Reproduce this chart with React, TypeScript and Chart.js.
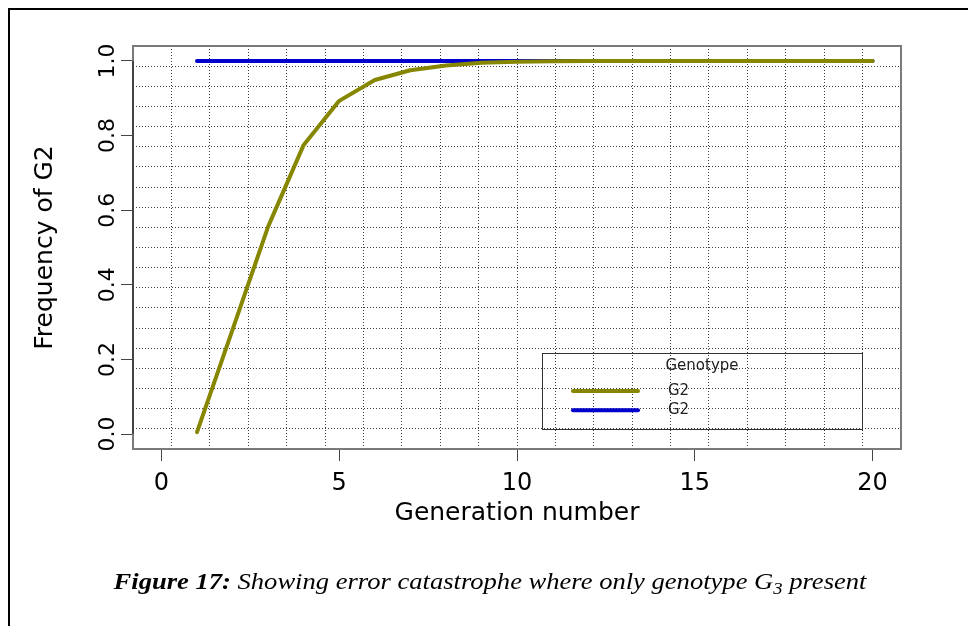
import React, { useEffect, useRef } from "react";
import { Chart, registerables } from "chart.js";

Chart.register(...registerables);

// ---- data ----
const generations = [1, 2, 3, 4, 5, 6, 7, 8, 9, 10, 11, 12, 13, 14, 15, 16, 17, 18, 19, 20];
const oliveG2 = [0.005, 0.28, 0.556, 0.775, 0.893, 0.949, 0.975, 0.988, 0.995, 0.998, 0.999, 1, 1, 1, 1, 1, 1, 1, 1, 1];
const blueG2 = [1, 1, 1, 1, 1, 1, 1, 1, 1, 1, 1, 1, 1, 1, 1, 1, 1, 1, 1, 1];
const seriesLabels = ["G2", "G2"];
const seriesColors = ["#868600", "#0000cd"];
const legendTitle = "Genotype";
const xTicks = [0, 5, 10, 15, 20];
const yTicks = [0, 0.2, 0.4, 0.6, 0.8, 1.0];
const xRange = [-0.8, 20.8];
const yRange = [-0.04, 1.04];
const gridDivisions = 20;
const xTitle = "Generation number";
const yTitle = "Frequency of G2";

const FONT = '"DejaVu Sans", sans-serif';

const evenTicks = (min: number, max: number, n: number) => {
  const out: { value: number }[] = [];
  for (let k = 0; k <= n; k++) out.push({ value: min + ((max - min) * k) / n });
  return out;
};

const boxAndLegend = {
  id: "boxAndLegend",
  afterDatasetsDraw(chart: any) {
    const { ctx, chartArea: a } = chart;
    ctx.save();
    // plot box
    ctx.strokeStyle = "#7a7a7a";
    ctx.lineWidth = 2;
    ctx.strokeRect(a.left, a.top, a.right - a.left, a.bottom - a.top);
    // y axis line segment between first and last tick
    const ys = chart.scales.y;
    ctx.strokeStyle = "#333";
    ctx.lineWidth = 1.5;
    ctx.beginPath();
    ctx.moveTo(a.left, ys.getPixelForValue(yTicks[0]));
    ctx.lineTo(a.left, ys.getPixelForValue(yTicks[yTicks.length - 1]));
    ctx.stroke();

    // legend
    const w = 320;
    const h = 76;
    const right = a.right - 39;
    const bottom = a.bottom - 20;
    const left = right - w;
    const top = bottom - h;
    ctx.strokeStyle = "#333";
    ctx.lineWidth = 1;
    ctx.strokeRect(Math.round(left) + 0.5, Math.round(top) + 0.5, w, h);
    ctx.fillStyle = "#222";
    ctx.font = `15px ${FONT}`;
    ctx.textAlign = "center";
    ctx.textBaseline = "middle";
    ctx.fillText(legendTitle, left + w / 2, top + 13);
    chart.data.datasets.forEach((ds: any, i: number) => {
      const y = top + 38 + i * 19.3;
      ctx.strokeStyle = ds.borderColor;
      ctx.lineWidth = 4;
      ctx.lineCap = "round";
      ctx.beginPath();
      ctx.moveTo(left + 31, y);
      ctx.lineTo(left + 96, y);
      ctx.stroke();
      ctx.fillStyle = "#222";
      ctx.textAlign = "left";
      ctx.fillText(ds.label, left + 126, y);
    });
    ctx.restore();
  },
};

export default function App() {
  const ref = useRef<HTMLCanvasElement>(null);

  useEffect(() => {
    const datasets = [oliveG2, blueG2].map((vals, i) => ({
      label: seriesLabels[i],
      data: generations.map((g, j) => ({ x: g, y: vals[j] })),
      borderColor: seriesColors[i],
      backgroundColor: seriesColors[i],
      borderWidth: 4,
      borderCapStyle: "round" as const,
      borderJoinStyle: "round" as const,
      pointRadius: 0,
      tension: 0,
      fill: false,
    }));

    const chart = new Chart(ref.current!, {
      type: "line",
      data: { datasets },
      plugins: [boxAndLegend],
      options: {
        animation: false,
        responsive: false,
        events: [],
        layout: { padding: { left: 20, top: 46, right: 67, bottom: 60 } },
        plugins: { legend: { display: false }, tooltip: { enabled: false } },
        scales: {
          x: {
            type: "linear",
            position: "bottom",
            min: xRange[0],
            max: xRange[1],
            afterBuildTicks: (s: any) => {
              s.ticks = xTicks.map((v) => ({ value: v }));
            },
            afterFit: (s: any) => {
              s.height = 117;
            },
            ticks: {
              autoSkip: false,
              maxRotation: 0,
              minRotation: 0,
              padding: 8,
              color: "#000",
              font: { family: FONT, size: 24 },
              callback: (v: any) => String(v),
            },
            grid: { drawOnChartArea: false, drawTicks: true, tickLength: 12, color: "#444", tickColor: "#444", lineWidth: 1 },
            border: { display: false },
            title: {
              display: true,
              text: xTitle,
              color: "#000",
              font: { family: FONT, size: 25 },
              padding: { top: 0, bottom: 38 },
            },
          },
          y: {
            type: "linear",
            position: "left",
            min: yRange[0],
            max: yRange[1],
            afterBuildTicks: (s: any) => {
              s.ticks = yTicks.map((v) => ({ value: v }));
            },
            afterFit: (s: any) => {
              s.width = 113;
            },
            ticks: {
              autoSkip: false,
              minRotation: 90,
              maxRotation: 90,
              crossAlign: "center",
              padding: -5,
              color: "#000",
              font: { family: FONT, size: 22 },
              callback: (v: any) => Number(v).toFixed(1),
            },
            grid: { drawOnChartArea: false, drawTicks: true, tickLength: 12, color: "#444", tickColor: "#444", lineWidth: 1 },
            border: { display: false },
            title: {
              display: true,
              text: yTitle,
              color: "#000",
              font: { family: FONT, size: 25 },
              padding: { top: 10.6, bottom: 0 },
            },
          },
          gx: {
            type: "linear",
            position: "bottom",
            min: xRange[0],
            max: xRange[1],
            afterBuildTicks: (s: any) => {
              s.ticks = evenTicks(xRange[0], xRange[1], gridDivisions);
            },
            afterFit: (s: any) => {
              s.height = 0;
            },
            ticks: { display: false },
            grid: { drawTicks: false, color: "rgba(40,40,40,0.9)", lineWidth: 1 },
            border: { display: false, dash: [1, 2] },
          },
          gy: {
            type: "linear",
            position: "left",
            min: yRange[0],
            max: yRange[1],
            afterBuildTicks: (s: any) => {
              s.ticks = evenTicks(yRange[0], yRange[1], gridDivisions);
            },
            afterFit: (s: any) => {
              s.width = 0;
            },
            ticks: { display: false },
            grid: { drawTicks: false, color: "rgba(40,40,40,0.9)", lineWidth: 1 },
            border: { display: false, dash: [1, 2] },
          },
        },
      } as any,
    });
    return () => chart.destroy();
  }, []);

  return (
    <div
      style={{
        position: "fixed",
        left: 0,
        top: 0,
        width: 968,
        height: 626,
        background: "#fff",
        overflow: "hidden",
      }}
    >
      <div
        style={{
          position: "absolute",
          left: 8,
          top: 8,
          width: 1000,
          height: 700,
          borderLeft: "2px solid #000",
          borderTop: "2px solid #000",
        }}
      />
      <canvas
        ref={ref}
        width={968}
        height={626}
        style={{ position: "absolute", left: 0, top: 0, width: 968, height: 626 }}
      />
      <div
        style={{
          position: "absolute",
          left: -10.5,
          width: 1000,
          top: 566,
          textAlign: "center",
          fontFamily: '"Liberation Serif", "Times New Roman", serif',
          fontSize: 24,
          lineHeight: "30px",
          fontStyle: "italic",
          color: "#000",
          whiteSpace: "nowrap",
          transform: "scaleX(1.107)",
          transformOrigin: "500px 50%",
        }}
      >
        <b>Figure 17:</b> Showing error catastrophe where only genotype G
        <span style={{ fontSize: "0.7em", position: "relative", top: "0.3em" }}>3</span> present
      </div>
    </div>
  );
}
